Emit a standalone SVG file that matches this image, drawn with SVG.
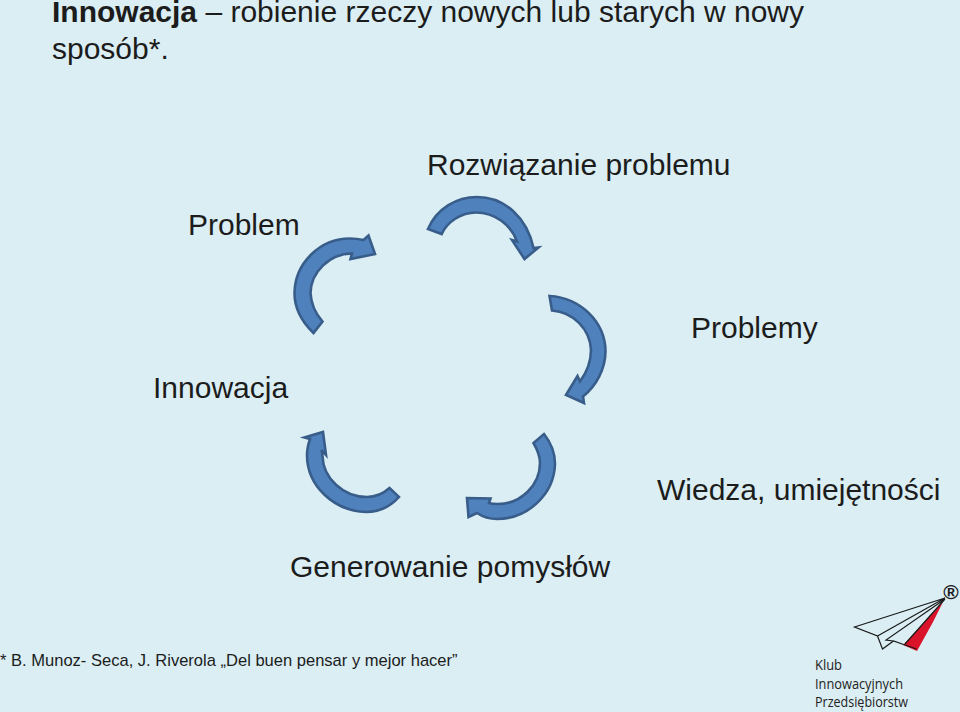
<svg xmlns="http://www.w3.org/2000/svg" width="960" height="712" viewBox="0 0 960 712">
<style>
text{font-family:"Liberation Sans",Arial,sans-serif;fill:#1c1c1c}
.t{font-size:30px}
.a{fill:#4f81bd;stroke:#385d8a;stroke-width:2.6;stroke-linejoin:miter}
.f{font-size:16.55px}
.l{font-family:"Open Sans","Noto Sans",sans-serif;font-size:14.5px;fill:#222}
.p{fill:none;stroke:#1a1a1a;stroke-width:1.2}
</style>
<rect width="960" height="712" fill="#daeef3"/>
<g id="title">
<text class="t" x="52" y="22"><tspan font-weight="bold">Innowacja</tspan> – robienie rzeczy nowych lub starych w nowy</text>
<text class="t" x="52" y="59">sposób*.</text>
</g>
<g id="node-rozwiazanie"><text class="t" x="427" y="175">Rozwiązanie problemu</text></g>
<g id="node-problem"><text class="t" x="188" y="235">Problem</text></g>
<g id="node-problemy"><text class="t" x="691" y="338">Problemy</text></g>
<g id="node-innowacja"><text class="t" x="153" y="398">Innowacja</text></g>
<g id="node-wiedza"><text class="t" x="657" y="500">Wiedza, umiejętności</text></g>
<g id="node-generowanie"><text class="t" x="290" y="577">Generowanie pomysłów</text></g>
<g id="connectors">
<path class="a" d="M428,229 C437,208 457,197 477,197 C505,197 527,218 533.5,248 L538.5,247.5 L524.5,259 L512,240 L517,241.500 C511,225 495,212.500 476,212.500 C461,212.500 447,222 441.700,234 Z"/>
<path class="a" d="M549.500,296 C581,298 605,322 605.500,351 C605.500,369 596,386 583,396.500 L584,403 L566,395 L577.500,376 L580,381.500 C587,372 591,361 591,350 C590,329 573,312 552,310.500 Z"/>
<path class="a" d="M544,434 C552,444 555,454 555,464 C554,495 527,519 497,519 C490,519 483,517 477,513 L468.500,517 L467,498 L490.500,498.500 L489,503 C492,504 495,504 498,504 C521,504 540,485 540,463 C540,456 537,449 533.500,443 Z"/>
<path class="a" d="M399,497 C390,507 379,512 366,512 C334,511 307,486 307,455 C307,450 308,445 310,439 L304.500,437.500 L323,432 L326,455 L321.500,450 C322,452 322.500,454 322.500,456 C323,478 343,497 367,497 C376,497 384,493 389.500,488 Z"/>
<path class="a" d="M313.500,333 C301,321 294.500,308 294.500,293 C295,263 320,238.500 350,238.500 C355,238.500 359,239 363.500,240 L368.500,235.500 L375,254 L350.500,259 L352,253.500 C329,254 311,272 310.500,293 C311,303 315,313 322.500,321.500 Z"/>
</g>
<g id="footnote"><text class="f" x="0" y="666">* B. Munoz- Seca, J. Riverola „Del buen pensar y mejor hacer”</text></g>
<g id="logo">
<path d="M943,602 L905,643 L903,645 L917,651 L933,622 Z" fill="#d9132a"/>
<path class="p" d="M945,598 L854.500,627 L877.500,636 L882.500,649 L893.500,641 L905,645 L916.500,649 M945,598 L877.500,636 M945,599 L886,640 L893.500,641 M945,599 L905,644"/>
<text x="951" y="599" text-anchor="middle" font-size="21" font-weight="bold">®</text>
<text class="l" x="815" y="670" textLength="27" lengthAdjust="spacingAndGlyphs">Klub</text>
<text class="l" x="815" y="689" textLength="88" lengthAdjust="spacingAndGlyphs">Innowacyjnych</text>
<text class="l" x="815" y="707" textLength="93" lengthAdjust="spacingAndGlyphs">Przedsiębiorstw</text>
</g>
</svg>
